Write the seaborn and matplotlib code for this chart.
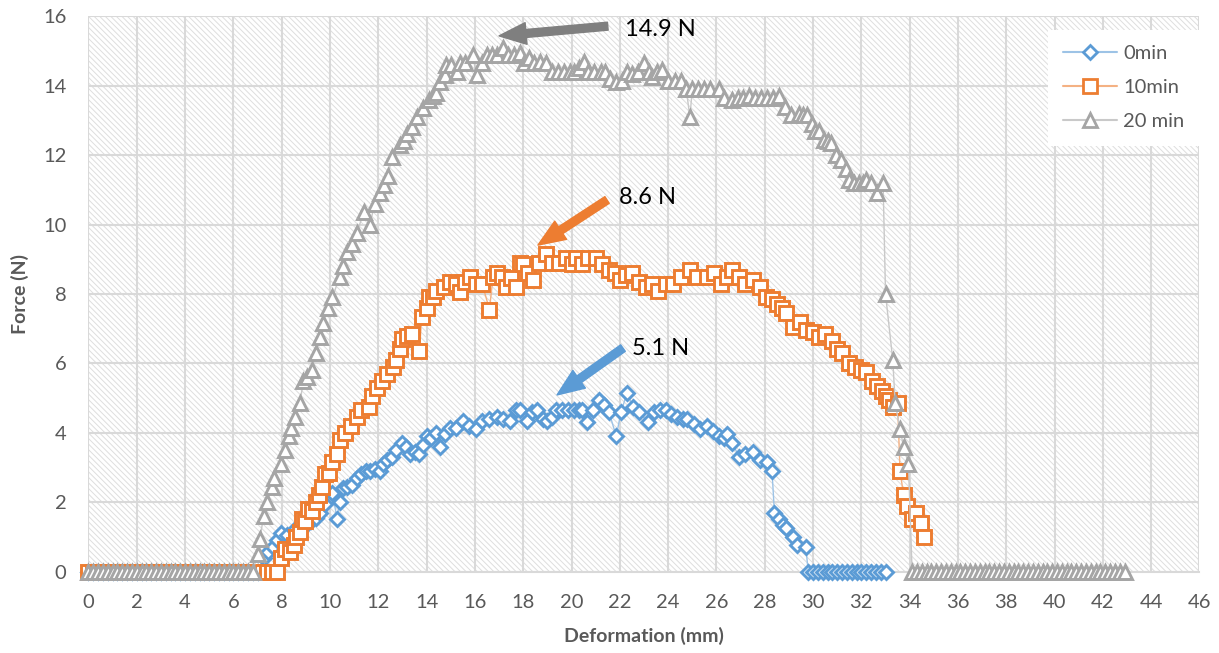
import matplotlib
matplotlib.use("Agg")
import matplotlib.pyplot as plt
from matplotlib.patches import Rectangle
from matplotlib.lines import Line2D
import seaborn as sns
import pandas as pd

# ---------------- data ----------------
x_0min = [0.0, 0.2, 0.4, 0.6, 0.8, 1.0, 1.2, 1.4, 1.6, 1.8, 2.0, 2.2, 2.4, 2.6, 2.8, 3.0, 3.2, 3.4, 3.6, 3.8,
          4.0, 4.2, 4.4, 4.6, 4.8, 5.0, 5.2, 5.4, 5.6, 5.8, 6.0, 6.2, 6.4, 6.6, 6.8, 7.0,
          7.25, 7.45, 7.65, 7.8, 7.95, 8.2, 8.5, 8.8, 9.0, 9.2, 9.4, 9.6, 9.8, 10.1, 10.3, 10.4, 10.55,
          10.7, 10.9, 11.1, 11.3, 11.5, 11.65, 11.85, 12.05, 12.2, 12.35, 12.55, 12.75, 13.0, 13.15, 13.3,
          13.5, 13.7, 13.85, 14.0, 14.2, 14.4, 14.55, 14.75, 14.95, 15.2, 15.5, 15.75, 16.05, 16.3, 16.6,
          16.9, 17.15, 17.45, 17.7, 17.85, 18.15, 18.35, 18.55, 18.8, 19.0, 19.2, 19.35, 19.6, 19.85,
          20.1, 20.3, 20.45, 20.65, 20.9, 21.15, 21.35, 21.55, 21.85, 22.05, 22.3, 22.55, 22.8, 23.15,
          23.4, 23.65, 23.9, 24.1, 24.35, 24.6, 24.8, 25.05, 25.3, 25.6, 25.85, 26.1, 26.3, 26.45, 26.65,
          26.95, 27.2, 27.5, 27.8, 28.1, 28.3, 28.4, 28.6, 28.75, 28.9, 29.15, 29.35, 29.7,
          29.8, 30.0, 30.2, 30.4, 30.6, 30.8, 31.0, 31.2, 31.4, 31.6, 31.8, 32.0, 32.2, 32.4, 32.6, 32.8, 33.0]
y_0min = [0.0, 0.0, 0.0, 0.0, 0.0, 0.0, 0.0, 0.0, 0.0, 0.0, 0.0, 0.0, 0.0, 0.0, 0.0, 0.0, 0.0, 0.0, 0.0, 0.0,
          0.0, 0.0, 0.0, 0.0, 0.0, 0.0, 0.0, 0.0, 0.0, 0.0, 0.0, 0.0, 0.0, 0.0, 0.0, 0.0,
          0.4, 0.55, 0.7, 0.9, 1.1, 1.05, 1.2, 1.3, 1.35, 1.45, 1.55, 1.7, 1.95, 2.25, 1.5, 2.0, 2.4,
          2.45, 2.5, 2.7, 2.8, 2.9, 2.9, 2.95, 2.9, 3.1, 3.2, 3.3, 3.5, 3.7, 3.6, 3.4,
          3.45, 3.4, 3.65, 3.9, 3.85, 4.0, 3.6, 3.95, 4.15, 4.15, 4.35, 4.2, 4.1, 4.35, 4.4,
          4.45, 4.4, 4.35, 4.65, 4.65, 4.35, 4.6, 4.65, 4.4, 4.35, 4.45, 4.65, 4.65, 4.65,
          4.65, 4.65, 4.65, 4.3, 4.65, 4.95, 4.8, 4.6, 3.9, 4.6, 5.15, 4.75, 4.6, 4.3,
          4.6, 4.65, 4.65, 4.55, 4.45, 4.4, 4.4, 4.25, 4.1, 4.2, 4.05, 3.9, 3.85, 3.95, 3.7,
          3.3, 3.4, 3.45, 3.2, 3.15, 2.9, 1.7, 1.5, 1.35, 1.25, 1.0, 0.75, 0.7,
          0.0, 0.0, 0.0, 0.0, 0.0, 0.0, 0.0, 0.0, 0.0, 0.0, 0.0, 0.0, 0.0, 0.0, 0.0, 0.0, 0.0]

x_10min = [0.0, 0.2, 0.4, 0.6, 0.8, 1.0, 1.2, 1.4, 1.6, 1.8, 2.0, 2.2, 2.4, 2.6, 2.8, 3.0, 3.2, 3.4, 3.6, 3.8,
           4.0, 4.2, 4.4, 4.6, 4.8, 5.0, 5.2, 5.4, 5.6, 5.8, 6.0, 6.2, 6.4, 6.6, 6.8, 7.0, 7.2, 7.4, 7.6, 7.8,
           7.95, 8.15, 8.35, 8.5, 8.6, 8.75, 8.85, 8.95, 9.1, 9.25, 9.4, 9.55, 9.65, 9.8, 9.95, 10.1, 10.3,
           10.4, 10.6, 10.85, 11.1, 11.3, 11.6, 11.75, 11.95, 12.15, 12.35, 12.6, 12.75, 12.9, 13.0, 13.2,
           13.4, 13.7, 13.8, 14.0, 14.1, 14.25, 14.4, 14.7, 14.95, 15.2, 15.4, 15.6, 15.8, 16.05, 16.3,
           16.6, 16.75, 16.9, 17.1, 17.3, 17.5, 17.7, 17.85, 18.0, 18.2, 18.4, 18.65, 18.95, 19.2, 19.5,
           19.75, 20.0, 20.2, 20.45, 20.7, 21.0, 21.25, 21.55, 21.8, 22.0, 22.25, 22.5, 22.8, 23.1, 23.35,
           23.6, 23.9, 24.2, 24.55, 24.9, 25.2, 25.6, 25.9, 26.2, 26.45, 26.65, 26.95, 27.2, 27.5, 27.8,
           28.05, 28.3, 28.5, 28.7, 28.9, 29.15, 29.45, 29.7, 30.0, 30.25, 30.5, 30.8, 31.0, 31.2, 31.5,
           31.75, 32.0, 32.2, 32.45, 32.65, 32.85, 33.0, 33.15, 33.3, 33.5, 33.6, 33.75, 33.9, 34.1, 34.25,
           34.45, 34.6]
y_10min = [0.0, 0.0, 0.0, 0.0, 0.0, 0.0, 0.0, 0.0, 0.0, 0.0, 0.0, 0.0, 0.0, 0.0, 0.0, 0.0, 0.0, 0.0, 0.0, 0.0,
           0.0, 0.0, 0.0, 0.0, 0.0, 0.0, 0.0, 0.0, 0.0, 0.0, 0.0, 0.0, 0.0, 0.0, 0.0, 0.0, 0.0, 0.0, 0.0, 0.0,
           0.4, 0.65, 0.55, 0.75, 1.0, 1.15, 1.5, 1.45, 1.8, 1.75, 2.0, 2.2, 2.45, 2.8, 2.85, 3.15, 3.4,
           3.8, 4.0, 4.2, 4.45, 4.65, 4.75, 5.05, 5.3, 5.5, 5.7, 5.9, 6.1, 6.4, 6.7, 6.8,
           6.85, 6.35, 7.35, 7.6, 7.9, 7.9, 8.1, 8.2, 8.35, 8.3, 8.05, 8.35, 8.5, 8.3, 8.3,
           7.55, 8.5, 8.6, 8.5, 8.2, 8.45, 8.2, 8.9, 8.85, 8.6, 8.4, 8.9, 9.15, 8.9, 8.9,
           9.05, 8.85, 9.05, 8.85, 9.05, 9.05, 8.85, 8.7, 8.6, 8.4, 8.55, 8.6, 8.35, 8.2, 8.3,
           8.1, 8.3, 8.3, 8.5, 8.7, 8.5, 8.5, 8.6, 8.3, 8.5, 8.7, 8.5, 8.3, 8.4, 8.2,
           7.9, 7.85, 7.7, 7.6, 7.45, 7.05, 7.2, 6.95, 6.9, 6.75, 6.85, 6.65, 6.4, 6.3, 6.0,
           5.9, 5.8, 5.75, 5.5, 5.35, 5.2, 5.05, 4.95, 4.75, 4.85, 2.9, 2.2, 1.9, 1.5, 1.7,
           1.4, 1.0]

x_20min = [0.0, 0.2, 0.4, 0.6, 0.8, 1.0, 1.2, 1.4, 1.6, 1.8, 2.0, 2.2, 2.4, 2.6, 2.8, 3.0, 3.2, 3.4, 3.6, 3.8,
           4.0, 4.2, 4.4, 4.6, 4.8, 5.0, 5.2, 5.4, 5.6, 5.8, 6.0, 6.2, 6.4, 6.6, 6.8,
           7.0, 7.1, 7.25, 7.4, 7.6, 7.7, 7.95, 8.15, 8.3, 8.4, 8.55, 8.75, 8.9, 9.05, 9.25, 9.4, 9.6, 9.7,
           9.9, 10.1, 10.4, 10.55, 10.7, 10.9, 11.1, 11.4, 11.65, 11.85, 12.07, 12.25, 12.4, 12.56, 12.9,
           13.05, 13.2, 13.4, 13.6, 13.85, 14.1, 14.25, 14.4, 14.55, 14.75, 14.8, 15.0, 15.25, 15.4, 15.6,
           15.9, 16.07, 16.3, 16.5, 16.7, 16.9, 17.15, 17.35, 17.6, 17.85, 18.05, 18.25, 18.45, 18.7, 18.95,
           19.2, 19.45, 19.7, 19.95, 20.1, 20.3, 20.5, 20.7, 20.95, 21.2, 21.4, 21.6, 21.85, 22.1, 22.3,
           22.5, 22.75, 23.0, 23.2, 23.35, 23.55, 23.75, 24.0, 24.3, 24.55, 24.75, 24.9, 25.0, 25.25, 25.5,
           25.75, 26.1, 26.3, 26.65, 26.9, 27.1, 27.35, 27.6, 27.85, 28.1, 28.35, 28.6, 28.85, 29.1, 29.4,
           29.6, 29.75, 29.95, 30.1, 30.25, 30.45, 30.6, 30.75, 30.95, 31.15, 31.35, 31.5, 31.7, 31.9, 32.05,
           32.2, 32.4, 32.65, 32.9, 33.0, 33.3, 33.4, 33.6, 33.75, 33.95,
           34.1, 34.3, 34.5, 34.7, 34.9, 35.1, 35.3, 35.5, 35.7, 35.9, 36.1, 36.3, 36.5, 36.7, 36.9, 37.1,
           37.3, 37.5, 37.7, 37.9, 38.1, 38.3, 38.5, 38.7, 38.9, 39.1, 39.3, 39.5, 39.7, 39.9, 40.1, 40.3,
           40.5, 40.7, 40.9, 41.1, 41.3, 41.5, 41.7, 41.9, 42.1, 42.3, 42.5, 42.7, 42.9]
y_20min = [0.0, 0.0, 0.0, 0.0, 0.0, 0.0, 0.0, 0.0, 0.0, 0.0, 0.0, 0.0, 0.0, 0.0, 0.0, 0.0, 0.0, 0.0, 0.0, 0.0,
           0.0, 0.0, 0.0, 0.0, 0.0, 0.0, 0.0, 0.0, 0.0, 0.0, 0.0, 0.0, 0.0, 0.0, 0.0,
           0.5, 0.95, 1.6, 2.0, 2.45, 2.7, 3.1, 3.5, 3.9, 4.15, 4.45, 4.85, 5.5, 5.6, 5.8, 6.3, 6.75, 7.15,
           7.6, 7.9, 8.5, 8.8, 9.2, 9.45, 9.75, 10.35, 10.0, 10.6, 10.9, 11.15, 11.4, 11.95, 12.3,
           12.4, 12.6, 12.8, 13.1, 13.35, 13.6, 13.7, 13.8, 14.1, 14.3, 14.6, 14.6, 14.4, 14.65, 14.65,
           14.9, 14.3, 14.65, 14.9, 14.9, 14.9, 15.1, 14.9, 14.9, 14.95, 14.65, 14.8, 14.65, 14.7, 14.65,
           14.4, 14.4, 14.4, 14.4, 14.4, 14.5, 14.7, 14.4, 14.4, 14.4, 14.4, 14.2, 14.1, 14.15, 14.4,
           14.35, 14.4, 14.65, 14.4, 14.25, 14.4, 14.45, 14.15, 14.15, 14.15, 13.9, 13.1, 13.9, 13.9, 13.9,
           13.9, 13.9, 13.65, 13.6, 13.65, 13.65, 13.7, 13.65, 13.65, 13.65, 13.65, 13.7, 13.4, 13.15, 13.2,
           13.15, 13.15, 12.9, 12.7, 12.7, 12.45, 12.4, 12.35, 12.0, 11.85, 11.6, 11.3, 11.2, 11.2, 11.2,
           11.3, 11.2, 10.9, 11.2, 8.0, 6.1, 4.85, 4.1, 3.6, 3.1,
           0.0, 0.0, 0.0, 0.0, 0.0, 0.0, 0.0, 0.0, 0.0, 0.0, 0.0, 0.0, 0.0, 0.0, 0.0, 0.0,
           0.0, 0.0, 0.0, 0.0, 0.0, 0.0, 0.0, 0.0, 0.0, 0.0, 0.0, 0.0, 0.0, 0.0, 0.0, 0.0,
           0.0, 0.0, 0.0, 0.0, 0.0, 0.0, 0.0, 0.0, 0.0, 0.0, 0.0, 0.0, 0.0]

series_names = ["0min", "10min", "20 min"]
x_ticks = list(range(0, 47, 2))
y_ticks = list(range(0, 17, 2))

peak_labels = ["14.9 N", "8.6 N", "5.1 N"]

# ---------------- style ----------------
sns.set_theme(style="white")
plt.rcParams["font.family"] = ["Lato", "DejaVu Sans"]
plt.rcParams["hatch.color"] = "#dedede"
plt.rcParams["hatch.linewidth"] = 0.7

TXT = "#595959"
marker_cols = ["#5B9BD5", "#ED7D31", "#A5A5A5"]
line_cols = ["#9DC3E6", "#F4B183", "#C9C9C9"]
markers = ["D", "s", "^"]
msizes = [7.0, 10.0, 10.0]

fig = plt.figure(figsize=(12.19, 6.53), dpi=100)
ax = fig.add_axes([0.0726, 0.1248, 0.9114, 0.850])

# hatched plot-area background
ax.add_patch(Rectangle((0, 0), 1, 1, transform=ax.transAxes, facecolor="white",
                       edgecolor="#dedede", hatch="\\" * 6, linewidth=0, zorder=0))

data = [(x_0min, y_0min), (x_10min, y_10min), (x_20min, y_20min)]
for i, (xs, ys) in enumerate(data):
    df = pd.DataFrame({"x": xs, "y": ys})
    sns.lineplot(data=df, x="x", y="y", ax=ax, estimator=None, sort=False,
                 color=line_cols[i], linewidth=1.0, marker=markers[i], markersize=msizes[i],
                 markerfacecolor="white", markeredgecolor=marker_cols[i], markeredgewidth=2.1,
                 zorder=3 + i, legend=False)
for ln in ax.lines:
    ln.set_clip_on(False)

ax.set_xlim(0, 46)
ax.set_ylim(0, 16)
ax.set_xticks(x_ticks)
ax.set_yticks(y_ticks)
ax.grid(True, color="#d9d9d9", linewidth=1.5)
ax.set_axisbelow(True)
for s in ["top", "right", "left"]:
    ax.spines[s].set_visible(False)
ax.spines["bottom"].set_color("#d9d9d9")
ax.spines["bottom"].set_linewidth(1.5)
ax.spines["bottom"].set_zorder(1)
ax.tick_params(axis="both", length=0, labelsize=14.5, labelcolor=TXT, pad=16)

ax.set_xlabel("Deformation (mm)", fontsize=14, fontweight="bold", color=TXT, labelpad=12)
ax.set_ylabel("Force (N)", fontsize=14, fontweight="bold", color=TXT, labelpad=10)

# legend
handles = [Line2D([0], [0], color=line_cols[i], linewidth=1.5, marker=markers[i],
                  markersize=msizes[i], markerfacecolor="white",
                  markeredgecolor=marker_cols[i], markeredgewidth=2.0)
           for i in range(3)]
leg = ax.legend(handles, series_names, loc="upper right", bbox_to_anchor=(1.0, 0.976),
                fontsize=14.5, labelcolor=TXT, frameon=True, fancybox=False, borderpad=0.75,
                handlelength=2.7, handletextpad=0.3, labelspacing=0.85, borderaxespad=0)
leg.get_frame().set_facecolor("white")
leg.get_frame().set_edgecolor("none")
leg.get_frame().set_alpha(1)
leg.set_zorder(10)

# peak annotations
ann = [
    (peak_labels[0], (21.5, 15.72), (17.0, 15.44), (22.2, 15.62), "#7F7F7F"),
    (peak_labels[1], (21.47, 10.71), (18.61, 9.41), (21.95, 10.78), "#ED7D31"),
    (peak_labels[2], (22.13, 6.44), (19.4, 5.09), (22.5, 6.44), "#5B9BD5"),
]
for text, tail, tip, tpos, col in ann:
    ax.annotate("", xy=tip, xytext=tail,
                arrowprops=dict(arrowstyle="simple,head_length=0.75,head_width=0.6,tail_width=0.22",
                                color=col, mutation_scale=26, shrinkA=0, shrinkB=0), zorder=8)
    ax.text(tpos[0], tpos[1], text, fontsize=17, color="black", va="center", ha="left", zorder=9)

fig.savefig("out.png", dpi=100)
